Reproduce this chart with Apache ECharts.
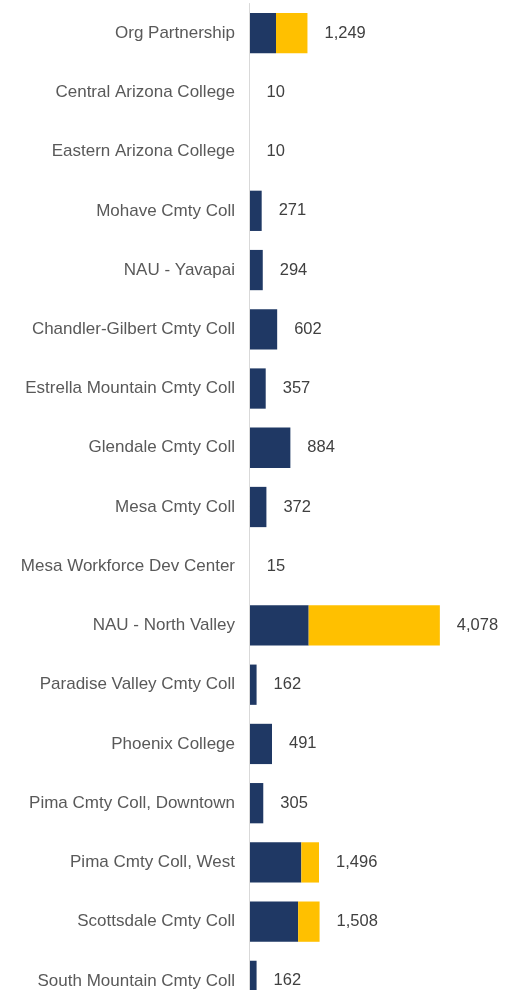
<!DOCTYPE html>
<html>
<head>
<meta charset="utf-8">
<script src="https://cdn.jsdelivr.net/npm/echarts@6/dist/echarts.min.js"></script>
<style>
html,body{margin:0;padding:0;background:#fff;overflow:hidden;}
#chart{width:518px;height:1014px;}
</style>
</head>
<body>
<div id="chart"></div>
<script>
var categories = ["Org Partnership","Central Arizona College","Eastern Arizona College","Mohave Cmty Coll","NAU - Yavapai","Chandler-Gilbert Cmty Coll","Estrella Mountain Cmty Coll","Glendale Cmty Coll","Mesa Cmty Coll","Mesa Workforce Dev Center","NAU - North Valley","Paradise Valley Cmty Coll","Phoenix College","Pima Cmty Coll, Downtown","Pima Cmty Coll, West","Scottsdale Cmty Coll","South Mountain Cmty Coll"];
var navyValues = [577,10,10,271,294,602,357,884,372,15,1275,162,491,305,1118,1050,162];
var goldValues = [672,0,0,0,0,0,0,0,0,0,2803,0,0,0,378,458,0];

var chart = echarts.init(document.getElementById('chart'));
chart.setOption({
  animation:false,
  grid:{left:249, top:3.5, width:234, height:1007, containLabel:false},
  xAxis:{type:'value', min:0, max:5000, show:false},
  yAxis:{type:'category', data:categories, inverse:true, z:3,
    axisLine:{show:true, lineStyle:{color:'#d9d9d9', width:1}},
    axisTick:{show:false},
    axisLabel:{color:'#595959', fontFamily:'Liberation Sans, Arial, sans-serif', fontSize:17, margin:14}
  },
  series:[
    {type:'bar', stack:'t', data:navyValues, barCategoryGap:'32%', itemStyle:{color:'#1F3864'}},
    {type:'bar', stack:'t', data:goldValues, itemStyle:{color:'#FFC000'},
      label:{show:true, position:'right', distance:17, color:'#404040', fontFamily:'Liberation Sans, Arial, sans-serif', fontSize:16.5,
        formatter:function(p){return (navyValues[p.dataIndex]+goldValues[p.dataIndex]).toLocaleString('en-US');}}
    }
  ]
});
</script>
</body>
</html>
